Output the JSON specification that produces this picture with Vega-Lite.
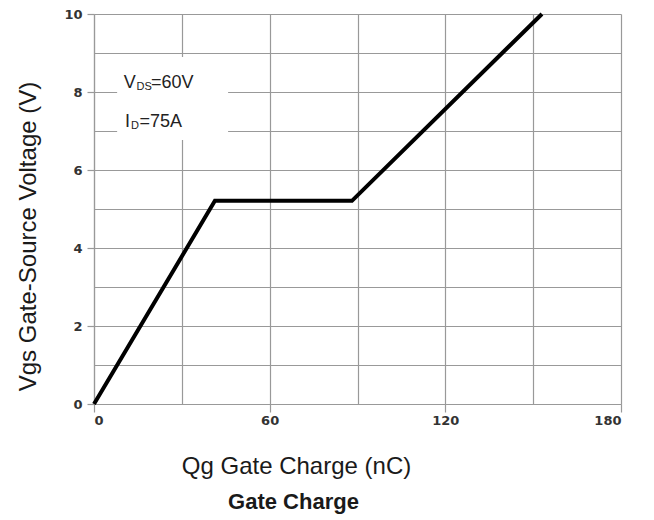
{
  "$schema": "https://vega.github.io/schema/vega-lite/v6.json",
  "width": 527,
  "height": 390,
  "autosize": {"type": "none"},
  "padding": {"left": 94, "top": 14, "right": 33, "bottom": 116},
  "background": "white",
  "config": {
    "view": {"stroke": null},
    "axis": {
      "gridColor": "#999999",
      "gridOpacity": 1,
      "gridWidth": 1.2,
      "domainColor": "#999999",
      "domainWidth": 1.2,
      "tickColor": "#999999",
      "tickWidth": 1.2,
      "labelFont": "DejaVu Sans",
      "labelFontWeight": "bold",
      "labelFontSize": 13,
      "labelColor": "#333333",
      "titleFont": "Liberation Sans",
      "titleFontWeight": "normal",
      "titleFontSize": 24,
      "titleColor": "#1a1a1a"
    }
  },
  "title": {
    "text": "Gate Charge",
    "orient": "bottom",
    "anchor": "middle",
    "dx": -64,
    "offset": 14,
    "font": "Liberation Sans",
    "fontSize": 22,
    "fontWeight": "bold",
    "color": "#1a1a1a"
  },
  "datasets": {
    "curve": [
      {"qg": 0, "vgs": 0},
      {"qg": 41.3, "vgs": 5.21},
      {"qg": 88.1, "vgs": 5.21},
      {"qg": 153, "vgs": 10}
    ],
    "box": [{"x1": 7.9, "x2": 45.8, "y1": 6.77, "y2": 8.9}],
    "main": [
      {"qg": 10.2, "vgs": 8.1, "t": "V"},
      {"qg": 19.5, "vgs": 8.1, "t": "=60V"},
      {"qg": 10.6, "vgs": 7.1, "t": "I"},
      {"qg": 15.5, "vgs": 7.1, "t": "=75A"}
    ],
    "sub": [
      {"qg": 14.5, "vgs": 8.05, "t": "DS"},
      {"qg": 12.6, "vgs": 7.05, "t": "D"}
    ]
  },
  "encoding": {
    "x": {
      "field": "qg",
      "type": "quantitative",
      "scale": {"domain": [0, 180], "nice": false},
      "axis": {
        "values": [0, 30, 60, 90, 120, 150, 180],
        "grid": true,
        "labelExpr": "datum.value % 60 == 0 ? datum.label : ''",
        "tickSize": 8,
        "tickOpacity": {"condition": {"test": "datum.value % 60 == 0", "value": 1}, "value": 0},
        "labelPadding": 2,
        "title": "Qg Gate Charge (nC)",
        "titleX": 202,
        "titleY": 69,
        "titleAlign": "center",
        "titleBaseline": "alphabetic"
      }
    },
    "y": {
      "field": "vgs",
      "type": "quantitative",
      "scale": {"domain": [0, 10], "nice": false},
      "axis": {
        "values": [0, 1, 2, 3, 4, 5, 6, 7, 8, 9, 10],
        "grid": true,
        "labelExpr": "datum.value % 2 == 0 ? datum.label : ''",
        "tickSize": 7,
        "tickOpacity": {"condition": {"test": "datum.value % 2 == 0", "value": 1}, "value": 0},
        "labelPadding": 5,
        "title": "Vgs Gate-Source Voltage (V)",
        "titleX": -59,
        "titleY": 222,
        "titleAngle": 270,
        "titleAlign": "center",
        "titleBaseline": "alphabetic"
      }
    }
  },
  "layer": [
    {
      "data": {"name": "box"},
      "mark": {"type": "rect", "fill": "white", "stroke": null},
      "encoding": {
        "x": {"field": "x1", "type": "quantitative"},
        "x2": {"field": "x2"},
        "y": {"field": "y1", "type": "quantitative"},
        "y2": {"field": "y2"}
      }
    },
    {
      "data": {"name": "curve"},
      "mark": {"type": "line", "color": "black", "strokeWidth": 4, "strokeJoin": "miter", "strokeCap": "butt"}
    },
    {
      "data": {"name": "main"},
      "mark": {"type": "text", "align": "left", "baseline": "alphabetic", "font": "Liberation Sans", "fontSize": 18, "color": "#222222"},
      "encoding": {"text": {"field": "t"}}
    },
    {
      "data": {"name": "sub"},
      "mark": {"type": "text", "align": "left", "baseline": "alphabetic", "font": "Liberation Sans", "fontSize": 11, "color": "#222222"},
      "encoding": {"text": {"field": "t"}}
    }
  ]
}
